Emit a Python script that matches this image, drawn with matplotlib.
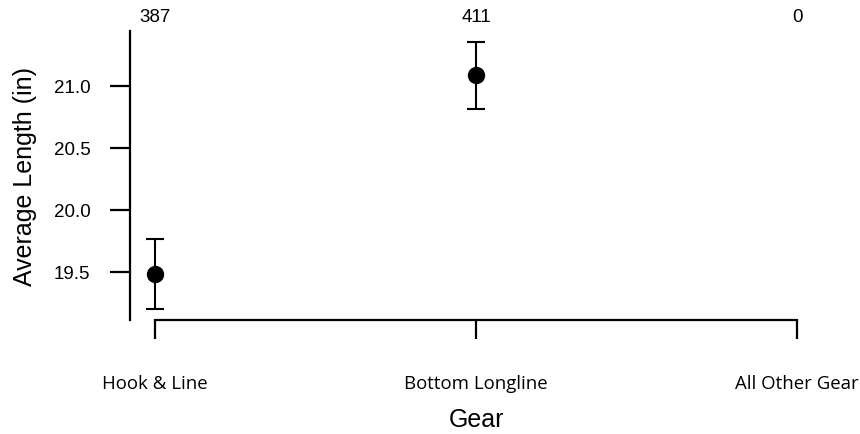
import matplotlib
matplotlib.use("Agg")
import matplotlib.pyplot as plt
from matplotlib.transforms import blended_transform_factory

categories = ["Hook & Line", "Bottom Longline", "All Other Gear"]
counts = [387, 411, 0]
means = [19.484, 21.089, None]
lower = [19.200, 20.815, None]
upper = [19.766, 21.355, None]
yticks = [19.5, 20.0, 20.5, 21.0]
yticklabels = ["19.5", "20.0", "20.5", "21.0"]

W, H = 860, 435
fig = plt.figure(figsize=(W / 100, H / 100), dpi=100)
ax = fig.add_axes([130 / W, 1 - 321 / H, (822 - 130) / W, (321 - 32) / H])

xs = [i for i, m in enumerate(means) if m is not None]
ms = [means[i] for i in xs]
errlo = [means[i] - lower[i] for i in xs]
errhi = [upper[i] - means[i] for i in xs]
ax.errorbar(xs, ms, yerr=[errlo, errhi], fmt="o", color="black", ms=11.5,
            elinewidth=1.5, capsize=6.5, capthick=1.5)

step = 321.0
ax.set_xlim(-25 / step, 2 + 25 / step)
ax.set_ylim(19.113, 21.44)

for s in ["top", "right"]:
    ax.spines[s].set_visible(False)
ax.spines["left"].set_linewidth(1.6)
ax.spines["bottom"].set_linewidth(1.6)
ax.spines["bottom"].set_bounds(0, 2)

ax.set_yticks(yticks)
ax.set_yticklabels(yticklabels, fontfamily="Liberation Sans", fontsize=13.5)
ax.tick_params(axis="y", length=14.4, width=1.6, pad=14)
ax.set_xticks(range(len(categories)))
ax.set_xticklabels(categories, fontfamily="Open Sans", fontsize=13.4)
ax.tick_params(axis="x", length=14, width=1.6, pad=25)

ax.set_ylabel("Average Length (in)", fontfamily="Liberation Sans", fontsize=18)
ax.yaxis.set_label_coords((25 - 130) / (822 - 130), 0.5)
ax.set_xlabel("Gear", fontfamily="Liberation Sans", fontsize=18)
ax.xaxis.set_label_coords(0.5, -(420 - 321) / (321 - 32))
ax.xaxis.label.set_va("center")
ax.yaxis.label.set_va("center")

tr = blended_transform_factory(ax.transData, ax.transAxes)
for i, c in enumerate(counts):
    ax.text(i, 1 + 14 / (321 - 32), str(c), transform=tr, ha="center", va="center",
            fontfamily="Liberation Sans", fontsize=13.5)

fig.savefig("out.png", dpi=100)
